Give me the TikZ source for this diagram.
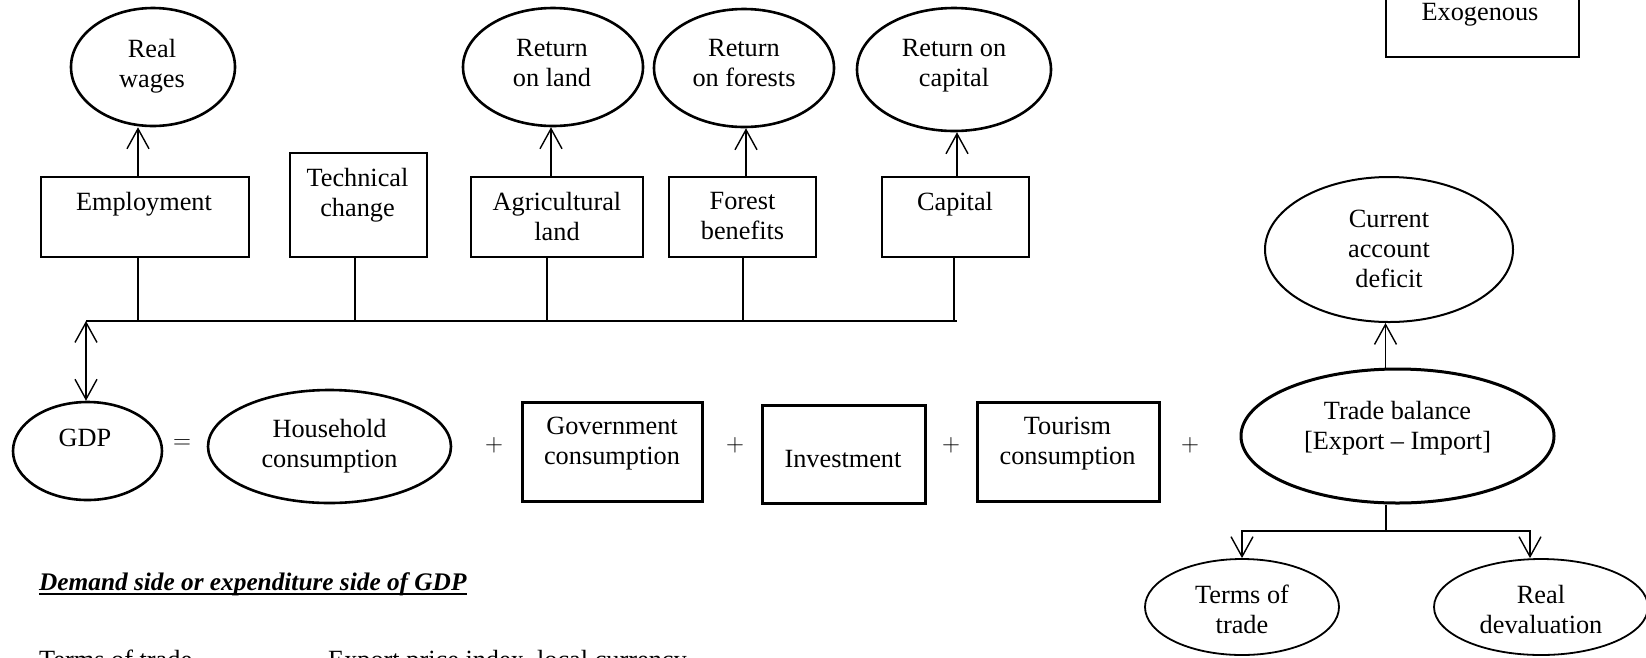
\documentclass[tikz,border=0pt]{standalone}
\usepackage{fontspec}
\setmainfont{Liberation Serif}
\usetikzlibrary{arrows.meta,shapes.geometric}
\begin{document}
\begin{tikzpicture}[x=1pt,y=-1pt,
  lbl/.style={font=\fontsize{26.3}{30}\selectfont, align=center, inner sep=0pt, anchor=north},
  boxA/.style={draw, rectangle, line width=2.8pt, inner sep=0pt},
  ovalA/.style={draw, ellipse, line width=2.6pt, inner sep=0pt},
  conn/.style={line width=1.4pt},
  arr/.style={conn, -{Straight Barb[length=20pt,width=22pt]}},
  darr/.style={conn, {Straight Barb[length=20pt,width=22pt]}-{Straight Barb[length=20pt,width=22pt]}},
  op/.style={font=\fontsize{26.3}{30}\selectfont, inner sep=0pt}]
\useasboundingbox (0,0) rectangle (1646,657);
\fill[white] (0,0) rectangle (1646,657);
\clip (0,0) rectangle (1646,657);

% ---------- top row: returns ----------
\node[ovalA, minimum width=164pt, minimum height=118pt] (rw) at (153,67) {};
\node[lbl] (rwT) at (152,39.2) {Real\\wages};
\node[ovalA, minimum width=180pt, minimum height=118pt] (rl) at (553,67) {};
\node[lbl] (rlT) at (552,39.2) {Return\\on land};
\node[ovalA, minimum width=180pt, minimum height=118pt] (rf) at (744,68) {};
\node[lbl] (rfT) at (744,39.2) {Return\\on forests};
\node[ovalA, minimum width=194pt, minimum height=123pt] (rc) at (954,69.5) {};
\node[lbl] (rcT) at (954,39.2) {Return on\\capital};

% ---------- factor boxes ----------
\node[boxA, minimum width=208pt, minimum height=80pt] (emp) at (145,217) {};
\node[lbl] (empT) at (144,192.2) {Employment};
\node[boxA, minimum width=137pt, minimum height=104pt] (tech) at (358.5,205) {};
\node[lbl] (techT) at (357.5,168.2) {Technical\\change};
\node[boxA, minimum width=172pt, minimum height=80pt] (ag) at (557,217) {};
\node[lbl] (agT) at (557,192.2) {Agricultural\\land};
\node[boxA, minimum width=147pt, minimum height=80pt] (fb) at (742.5,217) {};
\node[lbl] (fbT) at (742.5,192.2) {Forest\\benefits};
\node[boxA, minimum width=147pt, minimum height=80pt] (cap) at (955.5,217) {};
\node[lbl] (capT) at (955,192.2) {Capital};

% ---------- legend box ----------
\node[boxA, line width=2pt, minimum width=193pt, minimum height=69pt] (exo) at (1482.5,22.5) {};
\node[lbl] (exoT) at (1480,3.2) {Exogenous};

% ---------- current account ----------
\node[ovalA, line width=2pt, minimum width=248pt, minimum height=145pt] (cad) at (1389,249.5) {};
\node[lbl] (cadT) at (1389,210.2) {Current\\account\\deficit};

% ---------- GDP identity row ----------
\node[ovalA, minimum width=149pt, minimum height=98pt] (gdp) at (87.5,451) {};
\node[lbl] (gdpT) at (85,429.2) {GDP};
\node[op] (eq) at (182,444) {$=$};
\node[ovalA, minimum width=243pt, minimum height=113pt] (hh) at (329.5,446.5) {};
\node[lbl] (hhT) at (329.5,419.2) {Household\\consumption};
\node[op] (p1) at (494,445) {$+$};
\node[boxA, line width=3pt, minimum width=180pt, minimum height=99pt] (gov) at (612,451.5) {};
\node[lbl] (govT) at (612,417.2) {Government\\consumption};
\node[op] (p2) at (735,445) {$+$};
\node[boxA, line width=3pt, minimum width=163pt, minimum height=98pt] (inv) at (843.5,454) {};
\node[lbl] (invT) at (843,450.2) {Investment};
\node[op] (p3) at (951,445) {$+$};
\node[boxA, line width=3pt, minimum width=182pt, minimum height=99pt] (tour) at (1068,451.5) {};
\node[lbl] (tourT) at (1067.5,417.2) {Tourism\\consumption};
\node[op] (p4) at (1190,445) {$+$};
\node[ovalA, line width=3pt, minimum width=313pt, minimum height=134pt] (tb) at (1397.5,436) {};
\node[lbl] (tbT) at (1397.5,401.2) {Trade balance\\{[}Export – Import{]}};

% ---------- trade balance drivers ----------
\node[ovalA, line width=1.8pt, minimum width=194pt, minimum height=96pt] (tot) at (1242,607) {};
\node[lbl] (totT) at (1242,585.2) {Terms of\\trade};
\node[ovalA, line width=1.8pt, minimum width=214pt, minimum height=96pt] (rd) at (1541,607) {};
\node[lbl] (rdT) at (1541,585.2) {Real\\devaluation};

% ---------- text below ----------
\node[font=\fontsize{25.3}{30}\selectfont\bfseries\itshape, inner sep=0pt, anchor=base west] (title) at (39,590) {Demand side or expenditure side of GDP};
\draw[line width=2.2pt] ([yshift=-4pt]title.base west) -- ([yshift=-4pt]title.base east);
\node[font=\fontsize{26.3}{30}\selectfont, inner sep=0pt, anchor=base west] (tt) at (39,668) {Terms of trade};
\node[font=\fontsize{26.3}{30}\selectfont, inner sep=0pt, anchor=base west] (ep) at (328,668) {Export price index, local currency};

% ---------- connectors ----------
\coordinate (busL) at (86,321);
\coordinate (busR) at (957,321);
\coordinate (xE) at (138,321);
\coordinate (xT) at (355,321);
\coordinate (xA) at (547,321);
\coordinate (xF) at (743,321);
\coordinate (xC) at (954,321);
\coordinate (aE) at (138,0);
\coordinate (aA) at (551,0);
\coordinate (aF) at (746,0);
\coordinate (aC) at (957,0);
\coordinate (aT) at (1385.5,0);
\coordinate (sp) at (1386,531);
\coordinate (aR) at (1530,0);

\draw[conn] (busL) -- (busR);
\draw[conn] (emp.south -| xE) -- (xE);
\draw[conn] (tech.south -| xT) -- (xT);
\draw[conn] (ag.south -| xA) -- (xA);
\draw[conn] (fb.south -| xF) -- (xF);
\draw[conn] (cap.south -| xC) -- (xC);

\draw[arr] (emp.north -| aE) -- (rw.south -| aE);
\draw[arr] (ag.north -| aA) -- (rl.south -| aA);
\draw[arr] (fb.north -| aF) -- (rf.south -| aF);
\draw[arr] (cap.north -| aC) -- (rc.south -| aC);

\draw[darr] (busL) -- (gdp.north -| busL);

\draw[arr] (tb.north -| aT) -- (cad.south -| aT);
\draw[conn] (tb.south -| sp) -- (sp);
\draw[arr] (sp) -| (tot.north);
\draw[arr] (sp) -| (rd.north -| aR);
\end{tikzpicture}
\end{document}
